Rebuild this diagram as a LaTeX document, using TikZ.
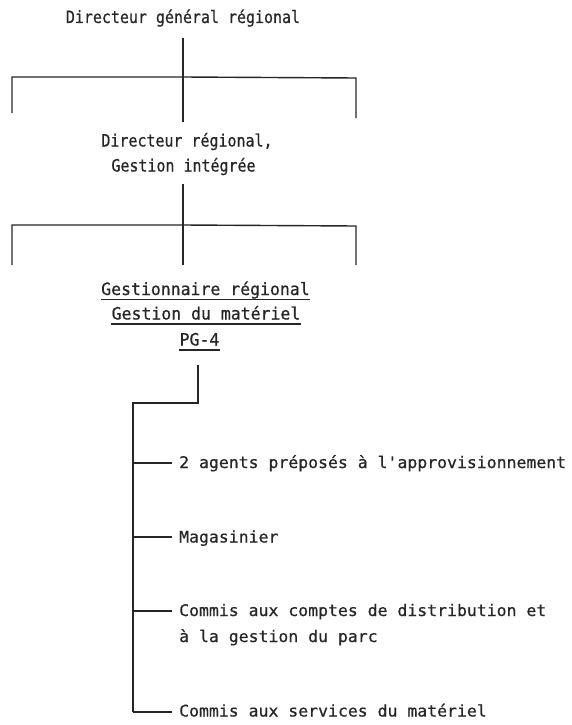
\documentclass[tikz,border=0pt]{standalone}
\usepackage{fontspec}
\newfontfamily\topf[FakeStretch=0.88,FakeBold=0.6]{DejaVu Sans Mono}
\newfontfamily\midf[FakeStretch=0.97,FakeBold=0.6]{DejaVu Sans Mono}
\newfontfamily\lowf[FakeStretch=1.03,FakeBold=0.6]{DejaVu Sans Mono}
\definecolor{ink}{HTML}{262626}
\tikzset{
  ln/.style={draw=ink, line width=1.4pt},
  toptxt/.style={inner sep=0pt, anchor=base, text=ink, font=\topf\fontsize{17}{25}\selectfont},
  midtxt/.style={inner sep=0pt, anchor=base, text=ink, font=\midf\fontsize{17}{25}\selectfont},
  lowtxt/.style={inner sep=0pt, anchor=base west, text=ink, align=left, font=\lowf\fontsize{16}{26}\selectfont},
  uline/.style={draw=ink, line width=1.2pt}
}
\begin{document}
\begin{tikzpicture}[x=1pt,y=-1pt]
\useasboundingbox[fill=white] (0,0) rectangle (571,725);
% level 1
\node[toptxt] (dg) at (183,23) {Directeur général régional};
\coordinate (a1) at (183,38);
\coordinate (j1) at (183,77);
\coordinate (a2) at (183,122);
\coordinate (l1) at (12,77);
\coordinate (l1b) at (12,113);
\coordinate (r1) at (356,78);
\coordinate (r1b) at (356,118);
\draw[ln] (a1) -- (a2);
\draw[ln] (l1b) -- (l1) -- (j1) -- (r1) -- (r1b);
% level 2
\node[toptxt] (dr1) at (187,146.5) {Directeur régional,};
\node[toptxt] (dr2) at (183.5,171.5) {Gestion intégrée};
\coordinate (b1) at (183,184);
\coordinate (j2) at (183,225);
\coordinate (b2) at (183,265);
\coordinate (l2) at (12,225);
\coordinate (l2b) at (12,265);
\coordinate (r2) at (356,226);
\coordinate (r2b) at (356,265);
\draw[ln] (b1) -- (b2);
\draw[ln] (l2b) -- (l2) -- (j2) -- (r2) -- (r2b);
% level 3
\node[midtxt] (g1) at (205.5,295) {Gestionnaire régional};
\node[midtxt] (g2) at (206,319.5) {Gestion du matériel};
\node[midtxt] (g3) at (199.5,345.5) {PG-4};
\draw[uline] ([yshift=-4.5pt]g1.base west) -- ([yshift=-4.5pt]g1.base east);
\draw[uline] ([yshift=-4.5pt]g2.base west) -- ([yshift=-4.5pt]g2.base east);
\draw[uline] ([yshift=-4.5pt]g3.base west) -- ([yshift=-4.5pt]g3.base east);
% level 4
\coordinate (c1) at (198,365);
\coordinate (c2) at (198,403);
\coordinate (c3) at (133,403);
\coordinate (c4) at (133,712);
\draw[ln] (c1) -- (c2) -- (c3) -- (c4);
\node[lowtxt] (s1) at (179,468) {2 agents préposés à l'approvisionnement};
\node[lowtxt] (s2) at (179,542.5) {Magasinier};
\node[lowtxt] (s3) at (179,616) {Commis aux comptes de distribution et};
\node[lowtxt] (s3b) at (179,642) {à la gestion du parc};
\node[lowtxt] (s4) at (179,716.5) {Commis aux services du matériel};
\coordinate (t1) at (133,463);
\coordinate (t2) at (133,537);
\coordinate (t3) at (133,611);
\draw[ln] (t1) -- ([xshift=-7pt]s1.west |- t1);
\draw[ln] (t2) -- ([xshift=-7pt]s2.west |- t2);
\draw[ln] (t3) -- ([xshift=-7pt]s3.west |- t3);
\draw[ln] (c4) -- ([xshift=-7pt]s4.west |- c4);
\end{tikzpicture}
\end{document}
